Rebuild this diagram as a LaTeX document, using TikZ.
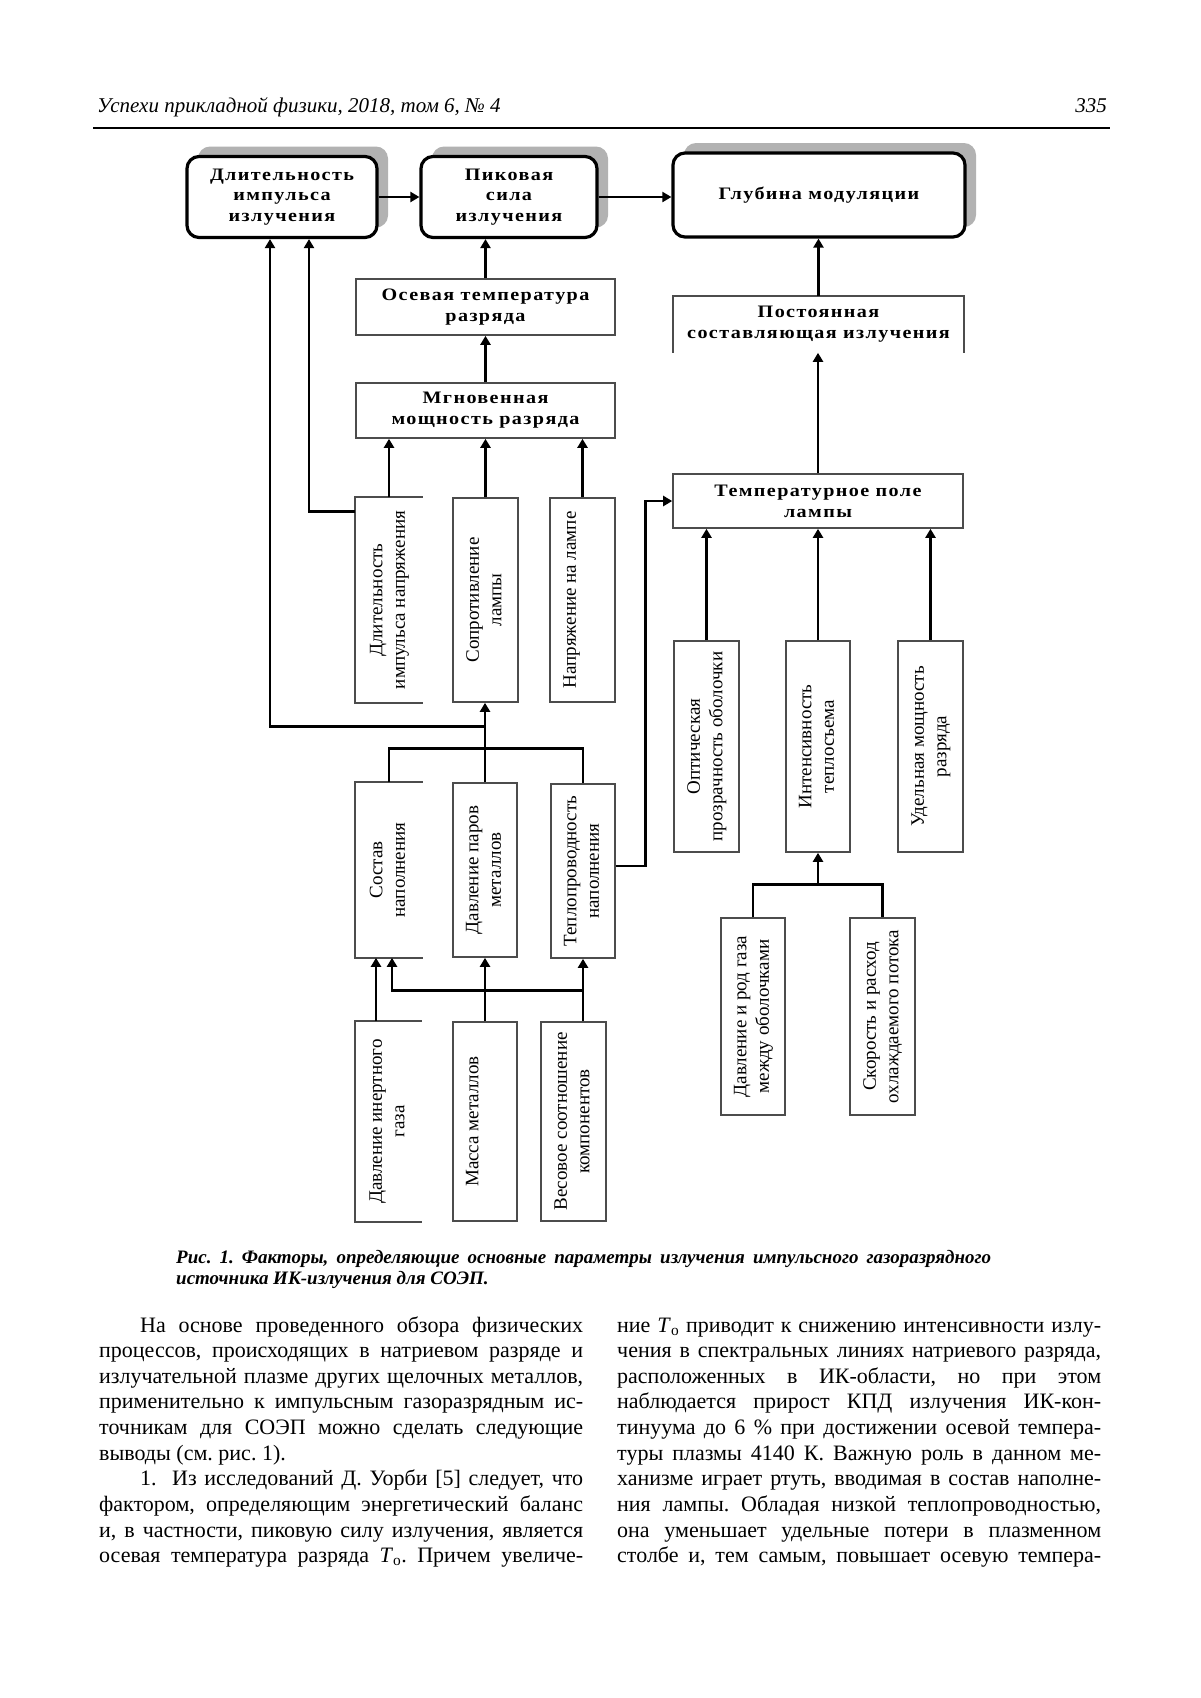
\documentclass[tikz,border=0pt]{standalone}
\usepackage{fontspec}
\usepackage{graphicx}
\setmainfont{Liberation Serif}
\newfontfamily\boxfont[LetterSpace=8,FakeStretch=1.15]{Liberation Serif}
\usetikzlibrary{arrows.meta,shadows,calc}
\frenchspacing
\newcommand\vt[1]{\rotatebox{90}{\begin{tabular}{@{}c@{}}#1\end{tabular}}}
\newcommand\To{\textit{T}\textsubscript{o}}
\newcommand\bl[5]{\node[bodytxt] (#1) at (#2,#3) {\makebox[#4pt][s]{#5}};}
\begin{document}
\begin{tikzpicture}[x=1pt,y=-1pt,
  topbox/.style={draw=black, line width=3.2pt, rounded corners=12pt, fill=white, inner sep=0pt, align=center,
    font=\boxfont\bfseries\fontsize{17.5}{20.5}\selectfont,
    drop shadow={shadow xshift=11pt, shadow yshift=10pt, fill=black!30, opacity=1}},
  hbox/.style={draw=black!70, line width=1.6pt, fill=white, inner sep=0pt, align=center,
    font=\boxfont\bfseries\fontsize{17.5}{21}\selectfont},
  vbox/.style={draw=black!70, line width=1.6pt, inner sep=0pt, font=\fontsize{19}{22.5}\selectfont},
  edgeline/.style={draw=black!70, line width=1.6pt},
  arr/.style={line width=2.8pt, -{Triangle[length=9pt,width=10pt]}},
  ln/.style={line width=2.8pt},
  bodytxt/.style={anchor=base west, inner sep=0pt, font=\fontsize{22}{25.6}\selectfont},
  captxt/.style={anchor=base west, inner sep=0pt, font=\bfseries\itshape\fontsize{19}{21}\selectfont}
]
\fill[white] (0,0) rectangle (1200,1698);
\useasboundingbox (0,0) rectangle (1200,1698);

% header
\node[anchor=base west, inner sep=0pt, font=\itshape\fontsize{21}{25}\selectfont] (hdr) at (97,112) {Успехи прикладной физики, 2018, том 6, №~4};
\node[anchor=base east, inner sep=0pt, font=\itshape\fontsize{21}{25}\selectfont] (pg) at (1107,112) {335};
\coordinate (r1) at (93,128);
\coordinate (r2) at (1110,128);
\draw[line width=1.3pt] (r1) -- (r2);

% top rounded boxes
\node[topbox, minimum width=190, minimum height=81] (A) at (282,197) {Длительность\\импульса\\излучения};
\node[topbox, minimum width=176, minimum height=81] (B) at (509,197) {Пиковая\\сила\\излучения};
\node[topbox, minimum width=292, minimum height=84] (C) at (819,195) {Глубина модуляции};

% horizontal boxes
\node[hbox, minimum width=259, minimum height=56] (Osev) at (485.5,307) {Осевая температура\\разряда};
\node[hbox, minimum width=259, minimum height=55] (Mgn) at (485.5,410.5) {Мгновенная\\мощность разряда};
\node[hbox, draw=none, minimum width=289, minimum height=55] (Post) at (818.5,324.5) {Постоянная\\составляющая излучения};
\draw[edgeline] (Post.south west) -- (Post.north west) -- (Post.north east) -- (Post.south east);
\node[hbox, minimum width=290, minimum height=54] (Temp) at (818,501) {Температурное поле\\лампы};

% vertical boxes, middle row
\node[vbox, draw=none, minimum width=66, minimum height=204] (DIN) at (389,600) {\vt{Длительность\\импульса напряжения}};
\draw[edgeline] (DIN.north east) -- (DIN.north west) -- (DIN.south west) -- (DIN.south east);
\node[vbox, minimum width=65, minimum height=204] (Sopr) at (485.5,600) {\vt{Сопротивление\\лампы}};
\node[vbox, minimum width=65, minimum height=204] (Napr) at (582.5,600) {\vt{Напряжение на лампе\\\mbox{}}};

% vertical boxes, filling row
\node[vbox, draw=none, minimum width=66, minimum height=174] (Sost) at (389,870) {\vt{Состав\\наполнения}};
\draw[edgeline] (Sost.north east) -- (Sost.north west) -- (Sost.south west) -- (Sost.south east);
\node[vbox, minimum width=64, minimum height=174] (DavP) at (485,870) {\vt{Давление паров\\металлов}};
\node[vbox, minimum width=64, minimum height=174] (Tepl) at (583,871) {\vt{Теплопроводность\\наполнения}};

% vertical boxes, bottom row
\node[vbox, draw=none, minimum width=65, minimum height=199] (DIG) at (388.5,1121.5) {\vt{Давление инертного\\газа}};
\draw[edgeline] (DIG.north east) -- (DIG.north west) -- (DIG.south west) -- (DIG.south east);
\node[vbox, minimum width=64, minimum height=199] (Mass) at (485,1121.5) {\vt{Масса металлов\\\mbox{}}};
\node[vbox, minimum width=65, minimum height=199] (Ves) at (573.5,1121.5) {\vt{Весовое соотношение\\компонентов}};

% right column vertical boxes
\node[vbox, minimum width=65, minimum height=211] (Opt) at (706.5,746.5) {\vt{Оптическая\\прозрачность оболочки}};
\node[vbox, minimum width=64, minimum height=211] (Int) at (818,746.5) {\vt{Интенсивность\\теплосъема}};
\node[vbox, minimum width=65, minimum height=211] (Ud) at (930.5,746.5) {\vt{Удельная мощность\\разряда}};
\node[vbox, minimum width=64, minimum height=197] (DRG) at (753,1016.5) {\vt{Давление и род газа\\между оболочками}};
\node[vbox, minimum width=65, minimum height=197] (Sk) at (882.5,1016.5) {\vt{Скорость и расход\\охлаждаемого потока}};

% connectors, top
\draw[arr] (A.east) -- (A.east -| B.west);
\draw[arr, line width=2pt] (B.east) -- (B.east -| C.west);
\draw[arr] (Osev.north) -- (Osev.north |- B.south);
\draw[arr] (Mgn) -- (Osev);
\draw[arr] (DIN.north) -- (DIN.north |- Mgn.south);
\draw[arr] (Sopr.north) -- (Sopr.north |- Mgn.south);
\draw[arr] (Napr.north) -- (Napr.north |- Mgn.south);
\coordinate (a1) at ($(A.south)+(27,0)$);
\coordinate (a2) at ($(A.south)+(-12,0)$);
\draw[arr] ($(DIN.north west)+(0,14)$) -| (a1);

% connectors, filling row
\draw[arr] (DavP.north) -- (DavP.north |- Sopr.south);
\draw[arr] ($(DavP.north)+(0,-56)$) -| (a2);
\draw[ln] (Sost.north) -- ++(0,-34) -| (Tepl.north);
\draw[arr] ($(Tepl.east)+(0,-5)$) -- ++(30,0) |- (Temp.west);

% right column
\draw[arr] (Temp.north) -- (Temp.north |- Post.south);
\draw[arr] (Post.north) -- (Post.north |- C.south);
\draw[arr] (Opt.north) -- (Opt.north |- Temp.south);
\draw[arr] (Int.north) -- (Int.north |- Temp.south);
\draw[arr] (Ud.north) -- (Ud.north |- Temp.south);
\coordinate (b1) at ($(DRG.north)+(0,-33)$);
\draw[ln] (DRG.north) -- (b1) -| (Sk.north);
\draw[arr] (b1 -| Int.south) -- (Int.south);

% bottom row
\draw[arr] ($(DIG.north)+(-12.5,0)$) -- ($(Sost.south)+(-13,0)$);
\draw[arr] (Mass.north) -- (Mass.north |- DavP.south);
\draw[arr] (Ves.north -| Tepl.south) -- (Tepl.south);
\coordinate (c1) at ($(Sost.south)+(3,33)$);
\draw[arr] (c1 -| Tepl.south) -- (c1) -- ($(Sost.south)+(3,0)$);

% caption
\node[captxt] (cap1) at (176,1263) {\makebox[815pt][s]{Рис. 1. Факторы, определяющие основные параметры излучения импульсного газоразрядного}};
\node[captxt] (cap2) at (176,1284) {источника ИК-излучения для СОЭП.};

% body text, left column
\bl{l1}{140}{1332}{443}{На основе проведенного обзора физических}
\bl{l2}{99}{1357.65}{484}{процессов, происходящих в натриевом разряде и}
\bl{l3}{99}{1383.3}{484}{излучательной плазме других щелочных металлов,}
\bl{l4}{99}{1408.95}{484}{применительно к импульсным газоразрядным ис-}
\bl{l5}{99}{1434.6}{484}{точникам для СОЭП можно сделать следующие}
\node[bodytxt] (l6) at (99,1460.25) {выводы (см. рис. 1).};
\bl{l7}{140}{1485.9}{443}{1.~~Из исследований Д. Уорби [5] следует, что}
\bl{l8}{99}{1511.55}{484}{фактором, определяющим энергетический баланс}
\bl{l9}{99}{1537.2}{484}{и, в частности, пиковую силу излучения, является}
\bl{l10}{99}{1562.85}{484}{осевая температура разряда \To. Причем увеличе-}

% body text, right column
\bl{r1t}{617}{1332}{484}{ние \To{} приводит к снижению интенсивности излу-}
\bl{r2t}{617}{1357.65}{484}{чения в спектральных линиях натриевого разряда,}
\bl{r3t}{617}{1383.3}{484}{расположенных в ИК-области, но при этом}
\bl{r4t}{617}{1408.95}{484}{наблюдается прирост КПД излучения ИК-кон-}
\bl{r5t}{617}{1434.6}{484}{тинуума до 6~\% при достижении осевой темпера-}
\bl{r6t}{617}{1460.25}{484}{туры плазмы 4140~К. Важную роль в данном ме-}
\bl{r7t}{617}{1485.9}{484}{ханизме играет ртуть, вводимая в состав наполне-}
\bl{r8t}{617}{1511.55}{484}{ния лампы. Обладая низкой теплопроводностью,}
\bl{r9t}{617}{1537.2}{484}{она уменьшает удельные потери в плазменном}
\bl{r10t}{617}{1562.85}{484}{столбе и, тем самым, повышает осевую темпера-}
\end{tikzpicture}
\end{document}
